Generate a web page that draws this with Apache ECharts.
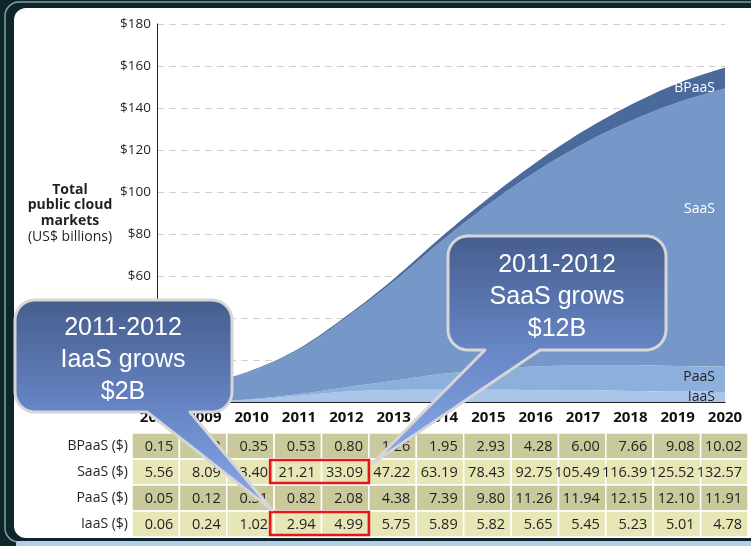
<!DOCTYPE html>
<html>
<head>
<meta charset="utf-8">
<script src="https://cdn.jsdelivr.net/npm/echarts@6/dist/echarts.min.js"></script>
<style>
html,body{margin:0;padding:0;background:#0c262b;}
#chart{width:751px;height:546px;}
</style>
</head>
<body>
<div id="chart"></div>
<script>
const years = ['2008','2009','2010','2011','2012','2013','2014','2015','2016','2017','2018','2019','2020'];
const bpaas = [0.15,0.22,0.35,0.53,0.80,1.26,1.95,2.93,4.28,6.00,7.66,9.08,10.02];
const saas  = [5.56,8.09,13.40,21.21,33.09,47.22,63.19,78.43,92.75,105.49,116.39,125.52,132.57];
const paas  = [0.05,0.12,0.31,0.82,2.08,4.38,7.39,9.80,11.26,11.94,12.15,12.10,11.91];
const iaas  = [0.06,0.24,1.02,2.94,4.99,5.75,5.89,5.82,5.65,5.45,5.23,5.01,4.78];
const rowLabels = ['BPaaS ($)','SaaS ($)','PaaS ($)','IaaS ($)'];
const yMin = 0, yMax = 180, yStep = 20;
// highlighted cells: [first column, last column, row]
const highlights = [[3,4,1],[3,4,3]];
const calloutLeft = ['2011-2012','IaaS grows','$2B'];
const calloutRight = ['2011-2012','SaaS grows','$12B'];

const tableRows = [bpaas, saas, paas, iaas];
const tableData = [];
tableRows.forEach((row, r) => row.forEach((v, c) => tableData.push([c, r, v])));

const chart = echarts.init(document.getElementById('chart'), null, {renderer:'canvas'});
const FONT = '"Open Sans", "Noto Sans", sans-serif';
const TXT = '#231f20';

function calloutPoints(x0,y0,x1,y1,r,bR,bL,tip){
  const pts=[];
  const arc=(cx,cy,a0,a1)=>{for(let i=0;i<=10;i++){const a=a0+(a1-a0)*i/10;pts.push([cx+r*Math.cos(a),cy+r*Math.sin(a)]);}};
  arc(x0+r,y0+r,Math.PI,1.5*Math.PI);
  arc(x1-r,y0+r,1.5*Math.PI,2*Math.PI);
  arc(x1-r,y1-r,0,0.5*Math.PI);
  pts.push([bR,y1]); pts.push(tip); pts.push([bL,y1]);
  arc(x0+r,y1-r,0.5*Math.PI,Math.PI);
  return pts;
}
function calloutFill(split){
  return new echarts.graphic.LinearGradient(0,0,0,1,[
    {offset:0,color:'#465d8c'},{offset:split,color:'#6786c6'},{offset:1,color:'#8aaaea'}]);
}

const areaColors = {iaas:'#a9c5e8', paas:'#8cafdc', saas:'#7698c9', bpaas:'#4a6a9c'};
function areaSeries(name, data, color){
  return {name, type:'line', stack:'total', data, smooth:0.35, symbol:'none',
    lineStyle:{width:0}, areaStyle:{color, opacity:1}, itemStyle:{color}, z:2, silent:true};
}

const option = {
  animation:false,
  grid:[
    {left:157, right:26, top:24, bottom:144, containLabel:false, outerBoundsMode:'none'},
    {left:132, right:3, top:433, height:104, containLabel:false, outerBoundsMode:'none'}
  ],
  xAxis:[
    {gridIndex:0, type:'category', data:years, boundaryGap:false,
     axisLine:{show:true, lineStyle:{color:'#222', width:1.2}}, axisTick:{show:false},
     axisLabel:{interval:0, margin:8, color:'#111', fontFamily:FONT, fontWeight:'bold', fontSize:15},
     splitLine:{show:false}},
    {gridIndex:1, type:'category', data:years, boundaryGap:true,
     axisLine:{show:false}, axisTick:{show:false}, axisLabel:{show:false}, splitLine:{show:false}}
  ],
  yAxis:[
    {gridIndex:0, type:'value', min:yMin, max:yMax, interval:yStep,
     axisLine:{show:true, lineStyle:{color:'#222', width:1}}, axisTick:{show:false},
     axisLabel:{margin:6, color:TXT, fontFamily:FONT, fontSize:13.5,
       formatter:v => v===0 ? '' : '$'+v},
     splitLine:{show:true, lineStyle:{color:'#cfcfcf', type:[7,5], width:1}}},
    {gridIndex:1, type:'category', data:rowLabels, inverse:true,
     axisLine:{show:false}, axisTick:{show:false}, splitLine:{show:false},
     axisLabel:{margin:4, color:TXT, fontFamily:FONT, fontSize:14}}
  ],
  series:[
    areaSeries('IaaS', iaas, areaColors.iaas),
    areaSeries('PaaS', paas, areaColors.paas),
    areaSeries('SaaS', saas, areaColors.saas),
    areaSeries('BPaaS', bpaas, areaColors.bpaas),
    {type:'custom', xAxisIndex:1, yAxisIndex:1, data:tableData, silent:true, z:3,
     encode:{x:0, y:1},
     renderItem:(params, api)=>{
       const c = api.coord([api.value(0), api.value(1)]);
       const s = api.size([1,1]);
       const r = api.value(1);
       const fill = (r % 2 === 0) ? '#c9c99b' : '#e6e6b6';
       return {type:'group', children:[
         {type:'rect', shape:{x:c[0]-s[0]/2, y:c[1]-s[1]/2, width:s[0], height:s[1]},
          style:{fill, stroke:'#ffffff', lineWidth:1.5}},
         {type:'text', style:{text:api.value(2).toFixed(2), x:c[0]+s[0]/2-6, y:c[1]+1,
          textAlign:'right', textVerticalAlign:'middle', fill:TXT, font:'14.5px '+FONT}}
       ]};
     }},
    {type:'custom', xAxisIndex:1, yAxisIndex:1, data:highlights, silent:true, z:4,
     encode:{x:[0,1], y:2},
     renderItem:(params, api)=>{
       const a = api.coord([api.value(0), api.value(2)]);
       const b = api.coord([api.value(1), api.value(2)]);
       const s = api.size([1,1]);
       return {type:'rect', shape:{x:a[0]-s[0]/2-4, y:a[1]-s[1]/2+1, width:(b[0]-a[0])+s[0]+4, height:s[1]-3},
         style:{fill:'none', stroke:'#e8141a', lineWidth:2.6}};
     }}
  ],
  graphic:[
    {type:'rect', z:-20, shape:{x:5,y:2,width:800,height:540,r:14}, style:{fill:'none', stroke:'#8d9d9f', lineWidth:1.5}},
    {type:'rect', z:-19, shape:{x:14,y:8,width:800,height:530,r:12}, style:{fill:'#ffffff'}},
    {type:'rect', z:-19, shape:{x:16,y:541,width:800,height:6,r:2}, style:{fill:'#b5cde6'}},
    {type:'text', z:5, style:{text:'Total\npublic cloud\nmarkets', x:70, y:182, textAlign:'center', textVerticalAlign:'top',
      lineHeight:15.5, font:'bold 14px '+FONT, fill:TXT}},
    {type:'text', z:5, style:{text:'(US$ billions)', x:70, y:237, textAlign:'center', textVerticalAlign:'middle',
      font:'14px '+FONT, fill:TXT}},
    {type:'text', z:5, style:{text:'BPaaS', x:715, y:88, textAlign:'right', textVerticalAlign:'middle', font:'14px '+FONT, fill:'#ffffff'}},
    {type:'text', z:5, style:{text:'SaaS', x:715, y:209, textAlign:'right', textVerticalAlign:'middle', font:'14px '+FONT, fill:'#ffffff'}},
    {type:'text', z:5, style:{text:'PaaS', x:715, y:377, textAlign:'right', textVerticalAlign:'middle', font:'14px '+FONT, fill:TXT}},
    {type:'text', z:5, style:{text:'IaaS', x:715, y:397, textAlign:'right', textVerticalAlign:'middle', font:'14px '+FONT, fill:TXT}},
    {type:'polygon', z:50, shape:{points:calloutPoints(15,300,232,412,20,190,147,[272,510])},
      style:{fill:calloutFill(0.53), stroke:'#d6d6d6', lineWidth:3, lineJoin:'round'}},
    {type:'text', z:51, style:{text:calloutLeft.join('\n'), x:123, y:360, textAlign:'center', textVerticalAlign:'middle',
      lineHeight:32, font:'25px "Liberation Sans", Arial, sans-serif', fill:'#ffffff'}},
    {type:'polygon', z:50, shape:{points:calloutPoints(448,236,666,350,20,540,485,[373,463])},
      style:{fill:calloutFill(0.5), stroke:'#d6d6d6', lineWidth:3, lineJoin:'round'}},
    {type:'text', z:51, style:{text:calloutRight.join('\n'), x:557, y:297, textAlign:'center', textVerticalAlign:'middle',
      lineHeight:32, font:'25px "Liberation Sans", Arial, sans-serif', fill:'#ffffff'}}
  ]
};
chart.setOption(option);
</script>
</body>
</html>
